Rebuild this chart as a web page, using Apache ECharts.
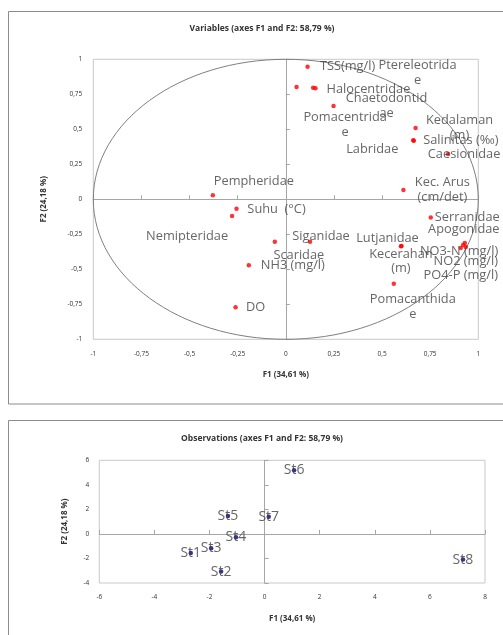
<!DOCTYPE html>
<html>
<head>
<meta charset="utf-8">
<script src="https://cdn.jsdelivr.net/npm/echarts@6/dist/echarts.min.js"></script>
<style>
html,body{margin:0;padding:0;background:#fff;}
#c{width:503px;height:635px;}
</style>
</head>
<body>
<div id="c"></div>
<script>
// ---- Data ----
const varNames = ["TSS(mg/l)","Ptereleotrida\ne","Halocentridae","Pomacentrida\ne","Chaetodontid\nae",
  "Kedalaman\n(m)","Salinitas (‰)","Labridae","Caesionidae","Kec. Arus\n(cm/det)","Serranidae",
  "Apogonidae","NO3-N (mg/l)","NO2 (mg/l)","PO4-P (mg/l)","Lutjanidae","Kecerahan\n(m)","Siganidae",
  "Scaridae","Pomacanthida\ne","Pempheridae","Suhu  (°C)","Nemipteridae","NH3 (mg/l)","DO"];
const varF1 = [0.113,0.056,0.154,0.142,0.248,0.674,0.665,0.662,0.843,0.611,0.753,
  0.930,0.921,0.935,0.909,0.601,0.598,0.126,-0.057,0.561,-0.379,-0.256,-0.279,-0.192,-0.261];
const varF2 = [0.947,0.802,0.793,0.797,0.666,0.509,0.419,0.421,0.324,0.066,-0.130,
  -0.312,-0.326,-0.341,-0.348,-0.334,-0.336,-0.303,-0.303,-0.603,0.029,-0.067,-0.119,-0.471,-0.771];

const obsNames = ["St1","St2","St3","St4","St5","St6","St7","St8"];
const obsF1 = [-2.68,-1.58,-1.94,-1.04,-1.33,1.07,0.15,7.20];
const obsF2 = [-1.55,-3.07,-1.17,-0.27,1.47,5.19,1.39,-2.09];

const titleVar = "Variables (axes F1 and F2: 58,79 %)";
const titleObs = "Observations (axes F1 and F2: 58,79 %)";
const axisF1 = "F1 (34,61 %)";
const axisF2 = "F2 (24,18 %)";

// ---- Layout: label shifts (px) for the variables plot ----
const labelShift = [[40,0],[121,-14],[53,1],[32,37],[53,0],[44,0],[47,0],[-41,9],[16,0],[39,0],[36.5,0],
  [-1,-14],[-4,6],[0,14],[0,27],[-14,-8],[0,15],[11,-5],[24,14],[19,23],[41,-14],[40,1],[-45,20],[44,0],[20,0]];

const FONT = "'Open Sans', 'Noto Sans', sans-serif";
const comma = v => String(+v.toFixed(2)).replace('.', ',');
const tickLbl = {fontSize:6.5, color:'#333', fontFamily:FONT, formatter: comma};
const nameSty = {fontSize:8, fontWeight:'bold', color:'#333', fontFamily:FONT};

function axisPair(grid, min, max, interval, opts) {
  const base = {type:'value', gridIndex:grid, min:min, max:max, interval:interval, splitLine:{show:false}};
  const a = Object.assign({}, base, {
    axisLine:{show:false, onZero:false}, axisTick:{show:false},
    axisLabel:Object.assign({margin:opts.margin}, tickLbl),
    name:opts.name, nameLocation:'middle', nameGap:opts.nameGap, nameTextStyle:nameSty
  });
  const b = Object.assign({}, base, {
    axisLine:{show:true, onZero:true, lineStyle:{color:'#a6a6a6', width:1}},
    axisTick:{show:true, length:4, lineStyle:{color:'#a6a6a6'}},
    axisLabel:{show:false}
  });
  return [a, b];
}

const xAxes = [
  ...axisPair(0, -1, 1, 0.25, {margin:11, name:axisF1, nameGap:31}),
  ...axisPair(1, -6, 8, 2, {margin:11, name:axisF1, nameGap:32})
];
const yAxes = [
  ...axisPair(0, -1, 1, 0.25, {margin:11, name:axisF2, nameGap:46}),
  ...axisPair(1, -4, 6, 2, {margin:10, name:axisF2, nameGap:31})
];

const varData = varNames.map((n,i) => ({
  name:n, value:[varF1[i], varF2[i]],
  label:{offset:labelShift[i]}
}));
const obsData = obsNames.map((n,i) => ({name:n, value:[obsF1[i], obsF2[i]]}));

const chart = echarts.init(document.getElementById('c'), null, {renderer:'canvas'});
chart.setOption({
  animation:false,
  backgroundColor:'#fff',
  title:[
    {text:titleVar, left:257, top:19, textAlign:'center',
     textStyle:{fontSize:8.5, fontWeight:'bold', color:'#333', fontFamily:FONT}},
    {text:titleObs, left:257, top:429, textAlign:'center',
     textStyle:{fontSize:8.5, fontWeight:'bold', color:'#333', fontFamily:FONT}}
  ],
  graphic:[
    {type:'rect', silent:true, shape:{x:8.5, y:11.5, width:520, height:392.5},
     style:{fill:'none', stroke:'#8c8c8c', lineWidth:1}},
    {type:'rect', silent:true, shape:{x:8.5, y:420.5, width:520, height:240},
     style:{fill:'none', stroke:'#8c8c8c', lineWidth:1}}
  ],
  grid:[
    {left:93.3, top:59.3, width:385, height:280, show:true, borderColor:'#c8c8c8', borderWidth:1, backgroundColor:'transparent'},
    {left:99.3, top:460.3, width:385.7, height:122.7, show:true, borderColor:'#c8c8c8', borderWidth:1, backgroundColor:'transparent'}
  ],
  xAxis:xAxes,
  yAxis:yAxes,
  series:[
    {
      type:'custom', xAxisIndex:0, yAxisIndex:0, clip:false, silent:true, z:1,
      data:[[0,0]],
      renderItem:function(params, api){
        const c = api.coord([0,0]);
        const e = api.coord([1,1]);
        return {type:'ellipse', shape:{cx:c[0], cy:c[1], rx:e[0]-c[0], ry:c[1]-e[1]},
                style:{fill:'none', stroke:'#7f7f7f', lineWidth:1}};
      }
    },
    {
      type:'scatter', xAxisIndex:0, yAxisIndex:0, symbol:'circle', symbolSize:4.5, z:3,
      itemStyle:{color:'#ff0000'},
      label:{show:true, position:'inside', formatter:'{b}', color:'#404040', fontSize:12.8,
             fontFamily:FONT, lineHeight:14.5, align:'center'},
      data:varData
    },
    {
      type:'scatter', xAxisIndex:2, yAxisIndex:2, symbol:'circle', symbolSize:4.5, z:3,
      itemStyle:{color:'#000080'},
      label:{show:true, position:'inside', formatter:'{b}', color:'#404040', fontSize:14,
             fontFamily:FONT, align:'center'},
      data:obsData
    }
  ]
});
</script>
</body>
</html>
